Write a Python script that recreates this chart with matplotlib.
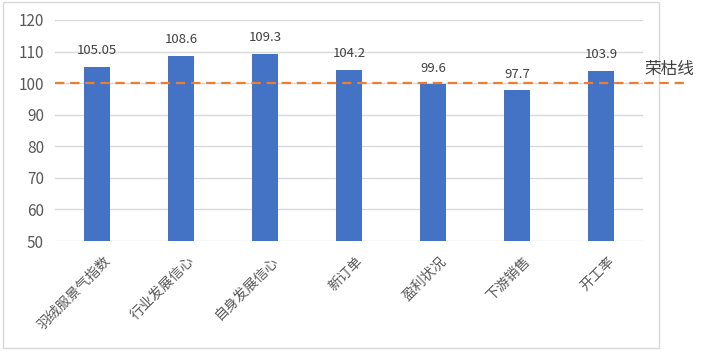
import matplotlib
matplotlib.use("Agg")
import matplotlib.pyplot as plt
from matplotlib.patches import Rectangle
from matplotlib.lines import Line2D
from matplotlib.transforms import ScaledTranslation

plt.rcParams['font.family'] = ['Noto Sans CJK SC', 'DejaVu Sans']

categories = ["羽绒服景气指数", "行业发展信心", "自身发展信心", "新订单", "盈利状况", "下游销售", "开工率"]
values = [105.05, 108.6, 109.3, 104.2, 99.6, 97.7, 103.9]
value_labels = ["105.05", "108.6", "109.3", "104.2", "99.6", "97.7", "103.9"]
threshold = 100
threshold_label = "荣枯线"
yticks = [50, 60, 70, 80, 90, 100, 110, 120]

W, H = 703, 353
fig = plt.figure(figsize=(W / 100, H / 100), dpi=100)
ax = fig.add_axes([55 / W, 1 - 241 / H, (643 - 55) / W, (241 - 20) / H])

x = list(range(len(categories)))
ax.bar(x, [v - 50 for v in values], bottom=50, width=0.31, color="#4472C4", zorder=3)
for xi, v, lab in zip(x, values, value_labels):
    ax.annotate(lab, (xi, v), xytext=(0, 7), textcoords="offset points",
                ha="center", va="bottom", fontsize=9.5, color="#404040")

ax.set_ylim(50, 120)
ax.set_xlim(-0.5, len(categories) - 0.5)
ax.set_yticks(yticks)
ax.yaxis.grid(True, color="#D9D9D9", linewidth=1, zorder=0)
ax.tick_params(axis="both", length=0, colors="#595959")
ax.tick_params(axis="y", pad=8, labelsize=11)
for s in ax.spines.values():
    s.set_visible(False)
ax.set_xticks(x)
ax.set_xticklabels(categories, rotation=45, ha="right", rotation_mode="anchor", color="#595959", fontsize=10)
offset = ScaledTranslation(6 / 100, -8 / 100, fig.dpi_scale_trans)
for lbl in ax.get_xticklabels():
    lbl.set_transform(lbl.get_transform() + offset)

# threshold dashed line extending outside the plot
x0, x1 = 55 / W, 687 / W
yline = ax.transData.transform((0, threshold))[1] / fig.dpi / fig.get_figheight()
fig.add_artist(Line2D([x0, x1], [yline, yline], transform=fig.transFigure,
                      color="#ED7D31", linewidth=1.6, linestyle=(0, (4.2, 2.6)), zorder=5))
fig.text(644 / W, yline + 0.038, threshold_label, fontsize=12, color="#404040", ha="left", va="center")

# chart frame
fig.add_artist(Rectangle((3 / W, 1 - 348 / H), (659 - 3) / W, (348 - 2) / H,
                         transform=fig.transFigure, fill=False, edgecolor="#D9D9D9", linewidth=1))

fig.savefig("out.png", dpi=100)
